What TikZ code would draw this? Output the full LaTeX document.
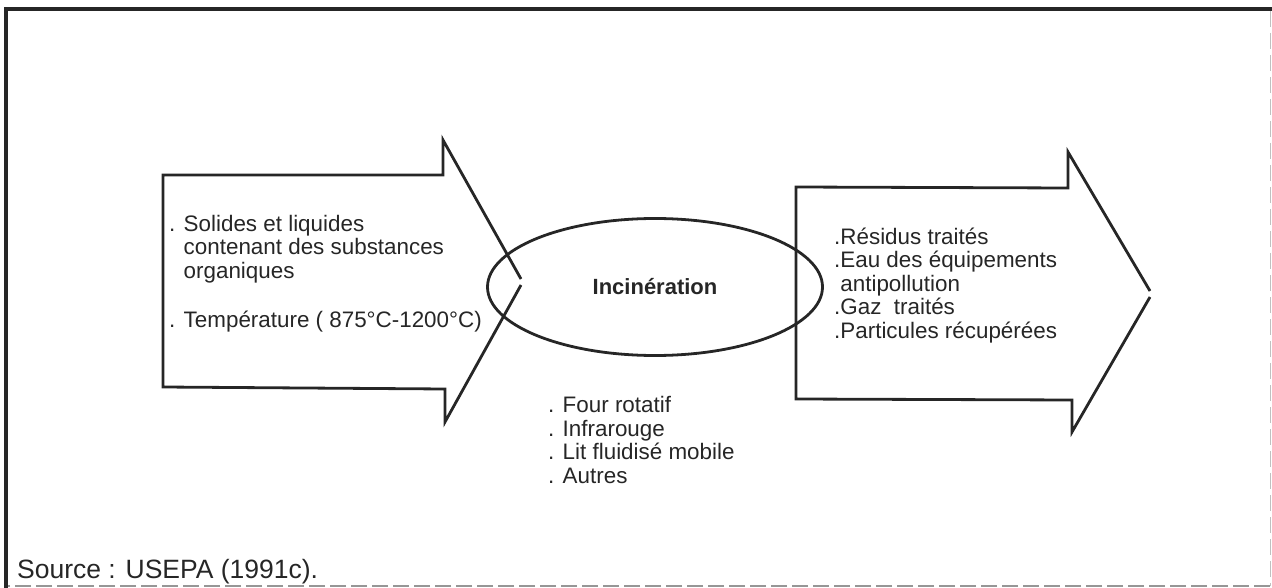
\documentclass[tikz,border=0pt]{standalone}
\usepackage{fontspec}
\setmainfont{Liberation Sans}
\usepackage{xcolor}
\usepackage{tikz}
\usetikzlibrary{shapes.geometric}
\definecolor{ink}{RGB}{38, 38, 38}
\definecolor{scanline}{RGB}{150, 150, 150}

\begin{document}
\begin{tikzpicture}[x=1pt, y=-1pt,
    txt/.style={anchor=base west, inner sep=0pt, align=left, text=ink,
                font=\fontsize{22.4}{23.5}\selectfont},
    outline/.style={draw=ink, line width=2.8pt, line join=miter}]
  \useasboundingbox (0,0) rectangle (1272,588);

  % Frame
  \draw[ink, line width=4pt] (6,588) -- (6,9) -- (1272,9);
  \draw[scanline!60, line width=1pt, dash pattern=on 16pt off 6pt]
    (1270,11) -- (1270,586);
  \draw[scanline, line width=1.2pt, dash pattern=on 16pt off 5pt]
    (1270,586) -- (8,586);

  % ---- Input arrow ----
  \coordinate (inTipA) at (521,279);
  \coordinate (inTipB) at (521,285);
  \draw[outline] (inTipA) -- (443,140) -- (443,175) -- (163,175)
    -- (163,387) -- (445,389) -- (445,422) -- (inTipB);
  \node[txt] (solides) at (169,278) {. Solides et liquides\\
    \hphantom{. }contenant des substances\\
    \hphantom{. }organiques};
  \node[txt] (temp) at (169,327) {. Température ( 875°C-1200°C)};

  % ---- Incineration ----
  \node[outline, ellipse, minimum width=335pt, minimum height=137pt,
        inner sep=0pt, text=ink, font=\bfseries\fontsize{22}{24}\selectfont]
    (incin) at (655,287) {Incinération};
  \node[txt] (fours) at (548,483) {. Four rotatif\\
    . Infrarouge\\
    . Lit fluidisé mobile\\
    . Autres};

  % ---- Output arrow ----
  \coordinate (outTipA) at (1150,291);
  \coordinate (outTipB) at (1150,297);
  \draw[outline] (outTipA) -- (1068,152) -- (1068,188) -- (796,187)
    -- (796,399) -- (1072,400) -- (1072,432) -- (outTipB);
  \node[txt] (residus) at (834,338) {.Résidus traités\\
    .Eau des équipements\\
    \hphantom{.}antipollution\\
    .Gaz\ \ traités\\
    .Particules récupérées};

  % Source
  \node[txt, font=\fontsize{26.5}{28}\selectfont] (source) at (17,578)
    {Source : USEPA (1991c).};
\end{tikzpicture}
\end{document}
